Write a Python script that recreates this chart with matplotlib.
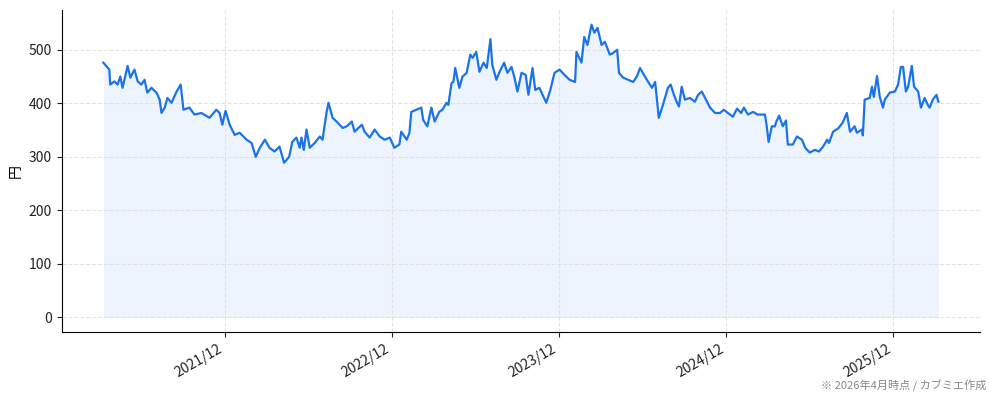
import pandas as pd
import matplotlib.pyplot as plt
import matplotlib.dates as mdates

plt.rcParams['font.family'] = ['Noto Sans CJK JP', 'DejaVu Sans']

# 株価の推移 (チャートから読み取り)
dates = [
    "2021-03-11", "2021-03-24", "2021-03-26", "2021-04-04", "2021-04-11", "2021-04-17", "2021-04-22",
    "2021-05-03", "2021-05-09", "2021-05-18", "2021-05-25", "2021-06-02", "2021-06-09", "2021-06-15",
    "2021-06-24", "2021-07-05", "2021-07-12", "2021-07-16", "2021-07-23", "2021-07-29", "2021-08-07",
    "2021-08-18", "2021-08-27", "2021-09-02", "2021-09-15", "2021-09-26", "2021-10-11", "2021-10-29",
    "2021-11-13", "2021-11-20", "2021-11-26", "2021-12-03", "2021-12-12", "2021-12-23", "2022-01-03",
    "2022-01-18", "2022-01-29", "2022-02-07", "2022-02-16", "2022-02-27", "2022-03-09", "2022-03-20",
    "2022-03-31", "2022-04-10", "2022-04-21", "2022-04-28", "2022-05-07", "2022-05-14", "2022-05-18",
    "2022-05-23", "2022-05-29", "2022-06-05", "2022-06-16", "2022-06-27", "2022-07-03", "2022-07-12",
    "2022-07-16", "2022-07-25", "2022-08-05", "2022-08-16", "2022-08-25", "2022-09-05", "2022-09-11",
    "2022-09-27", "2022-10-03", "2022-10-14", "2022-10-25", "2022-11-05", "2022-11-16", "2022-11-27",
    "2022-12-07", "2022-12-18", "2022-12-22", "2023-01-03", "2023-01-09", "2023-01-13", "2023-01-24",
    "2023-02-04", "2023-02-08", "2023-02-17", "2023-02-26", "2023-03-05", "2023-03-15", "2023-03-22",
    "2023-03-31", "2023-04-04", "2023-04-11", "2023-04-15", "2023-04-19", "2023-04-28", "2023-05-05",
    "2023-05-14", "2023-05-22", "2023-05-27", "2023-06-04", "2023-06-11", "2023-06-20", "2023-06-27",
    "2023-07-05", "2023-07-09", "2023-07-18", "2023-07-24", "2023-08-04", "2023-08-11", "2023-08-20",
    "2023-08-26", "2023-09-02", "2023-09-11", "2023-09-20", "2023-09-26", "2023-10-05", "2023-10-11",
    "2023-10-20", "2023-10-27", "2023-11-04", "2023-11-13", "2023-11-22", "2023-12-03", "2023-12-14",
    "2023-12-25", "2024-01-06", "2024-01-09", "2024-01-20", "2024-01-26", "2024-02-02", "2024-02-11",
    "2024-02-17", "2024-02-24", "2024-03-04", "2024-03-11", "2024-03-16", "2024-03-22", "2024-03-29",
    "2024-04-07", "2024-04-11", "2024-04-20", "2024-05-01", "2024-05-12", "2024-05-20", "2024-05-27",
    "2024-06-02", "2024-06-11", "2024-06-22", "2024-06-29", "2024-07-07", "2024-07-16", "2024-07-27",
    "2024-08-02", "2024-08-09", "2024-08-15", "2024-08-20", "2024-08-26", "2024-09-02", "2024-09-13",
    "2024-09-24", "2024-10-01", "2024-10-09", "2024-10-18", "2024-10-27", "2024-11-07", "2024-11-18",
    "2024-11-26", "2024-12-05", "2024-12-16", "2024-12-25", "2025-01-03", "2025-01-09", "2025-01-18",
    "2025-01-29", "2025-02-08", "2025-02-24", "2025-02-28", "2025-03-04", "2025-03-11", "2025-03-18",
    "2025-03-20", "2025-03-27", "2025-04-04", "2025-04-11", "2025-04-15", "2025-04-26", "2025-05-05",
    "2025-05-16", "2025-05-23", "2025-06-02", "2025-06-13", "2025-06-22", "2025-07-01", "2025-07-10",
    "2025-07-14", "2025-07-23", "2025-08-03", "2025-08-13", "2025-08-22", "2025-08-29", "2025-09-08",
    "2025-09-13", "2025-09-24", "2025-09-26", "2025-09-30", "2025-10-11", "2025-10-16", "2025-10-20",
    "2025-10-27", "2025-11-02", "2025-11-09", "2025-11-13", "2025-11-24", "2025-12-05", "2025-12-12",
    "2025-12-18", "2025-12-23", "2025-12-29", "2026-01-03", "2026-01-11", "2026-01-16", "2026-01-25",
    "2026-01-31", "2026-02-08", "2026-02-15", "2026-02-19", "2026-02-26", "2026-03-06", "2026-03-10",
]
prices = [
    476, 463, 435, 441, 435, 450, 429,
    470, 448, 463, 441, 435, 444, 420,
    429, 420, 407, 382, 392, 410, 401,
    422, 435, 388, 392, 379, 382, 373,
    388, 382, 360, 386, 360, 341, 345,
    332, 326, 300, 317, 332, 317, 310,
    319, 289, 300, 328, 336, 317, 336,
    313, 351, 317, 326, 338, 332, 384,
    401, 373, 364, 354, 357, 366, 347,
    360, 347, 336, 351, 338, 332, 336,
    317, 323, 347, 332, 345, 384, 388,
    392, 369, 357, 392, 366, 384, 388,
    401, 397, 438, 440, 466, 429, 450,
    457, 491, 485, 496, 459, 476, 466,
    520, 472, 444, 457, 476, 457, 468,
    450, 422, 457, 453, 416, 466, 425,
    429, 416, 401, 425, 457, 463, 453,
    444, 440, 496, 476, 524, 509, 547,
    532, 541, 509, 515, 504, 491, 494,
    500, 457, 448, 444, 440, 450, 466,
    457, 444, 429, 440, 373, 397, 429,
    435, 416, 403, 394, 431, 407, 410,
    403, 416, 422, 407, 392, 382, 382,
    388, 382, 375, 390, 382, 392, 379,
    384, 379, 379, 357, 328, 357, 357,
    364, 377, 357, 368, 323, 323, 338,
    332, 317, 308, 313, 310, 319, 332,
    326, 347, 353, 364, 382, 347, 357,
    345, 351, 340, 407, 410, 431, 412,
    451, 412, 392, 407, 420, 422, 435,
    468, 468, 422, 431, 470, 431, 422,
    392, 410, 397, 392, 407, 416, 403,
]

df = pd.DataFrame({"Date": pd.to_datetime(dates), "Price": prices})
df.set_index("Date", inplace=True)

line_color = "#1a73e8"

fig, ax = plt.subplots(figsize=(9.94, 4.01), dpi=100)
fig.subplots_adjust(left=0.062, right=0.986, top=0.975, bottom=0.172)

ax.plot(df.index, df["Price"], color=line_color, linewidth=1.6)
ax.fill_between(df.index, df["Price"], 0, color=line_color, alpha=0.08, linewidth=0)

ax.set_ylabel("円", fontsize=10, labelpad=4)
ax.set_yticks([0, 100, 200, 300, 400, 500])

ax.xaxis.set_major_locator(mdates.MonthLocator(bymonth=12))
ax.xaxis.set_major_formatter(mdates.DateFormatter("%Y/%m"))
plt.setp(ax.get_xticklabels(), rotation=30, ha="right")
ax.tick_params(labelsize=10, colors="#222222")

ax.grid(True, linestyle="--", color="#dddddd", linewidth=0.8, alpha=0.8)
ax.spines["top"].set_visible(False)
ax.spines["right"].set_visible(False)

fig.text(0.992, 0.022, "※ 2026年4月時点 / カブミエ作成", ha="right", va="bottom",
         fontsize=8, color="#888888")

plt.savefig("out.png", dpi=100)
